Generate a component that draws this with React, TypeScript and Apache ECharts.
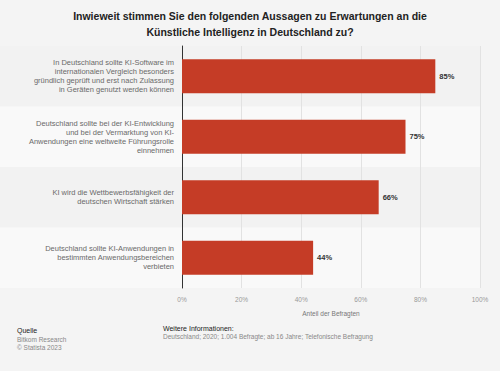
import React, { useEffect, useRef } from "react";
import * as echarts from "echarts";

const categories = [
  "In Deutschland sollte KI-Software im\ninternationalen Vergleich besonders\ngründlich geprüft und erst nach Zulassung\nin Geräten genutzt werden können",
  "Deutschland sollte bei der KI-Entwicklung\nund bei der Vermarktung von KI-\nAnwendungen eine weltweite Führungsrolle\neinnehmen",
  "KI wird die Wettbewerbsfähigkeit der\ndeutschen Wirtschaft stärken",
  "Deutschland sollte KI-Anwendungen in\nbestimmten Anwendungsbereichen\nverbieten",
];
const values = [85, 75, 66, 44];
const xTicks = [0, 20, 40, 60, 80, 100];

const titleText =
  "Inwieweit stimmen Sie den folgenden Aussagen zu Erwartungen an die\nKünstliche Intelligenz in Deutschland zu?";
const axisName = "Anteil der Befragten";
const sourceLabel = "Quelle";
const sourceLines = "Bitkom Research\n© Statista 2023";
const infoLabel = "Weitere Informationen:";
const infoText = "Deutschland; 2020; 1.004 Befragte; ab 16 Jahre; Telefonische Befragung";

const FONT = "Liberation Sans, Arial, sans-serif";

export default function App() {
  const ref = useRef<HTMLDivElement>(null);
  useEffect(() => {
    if (!ref.current) return;
    document.body.style.margin = "0";
    const chart = echarts.init(ref.current, undefined, { renderer: "svg" });
    chart.setOption({
      animation: false,
      backgroundColor: "#f4f4f4",
      textStyle: { fontFamily: FONT },
      title: {
        text: titleText,
        left: "center",
        top: 3,
        textStyle: {
          fontFamily: FONT,
          fontSize: 10.5,
          fontWeight: "bold",
          color: "#222",
          lineHeight: 16,
        },
      },
      grid: [
        { left: 182, right: 20, top: 46, bottom: 83 },
        { left: 0, right: 20, top: 46, bottom: 83 },
      ],
      xAxis: [
        {
          type: "value",
          gridIndex: 0,
          min: 0,
          max: 100,
          interval: 20,
          name: axisName,
          nameLocation: "middle",
          nameGap: 22,
          nameTextStyle: { fontSize: 6.5, color: "#777", fontFamily: FONT },
          axisLine: { show: false },
          axisTick: { show: false },
          axisLabel: {
            fontSize: 6.5,
            color: "#999",
            margin: 8,
            formatter: (v: number) => (xTicks.includes(v) ? v + "%" : ""),
          },
          splitLine: { show: true, lineStyle: { color: "#e2e2e2", width: 1 } },
        },
        {
          type: "value",
          gridIndex: 1,
          min: 0,
          max: 1,
          show: false,
        },
      ],
      yAxis: [
        {
          type: "category",
          gridIndex: 0,
          inverse: true,
          data: categories,
          axisLine: { show: true, lineStyle: { color: "#333", width: 1 } },
          axisTick: { show: false },
          axisLabel: {
            fontSize: 7.5,
            lineHeight: 9,
            color: "#6a6a6a",
            margin: 8,
            align: "right",
            fontFamily: FONT,
          },
          splitArea: { show: false },
        },
        {
          type: "category",
          gridIndex: 1,
          inverse: true,
          data: categories.map((_, i) => String(i)),
          axisLine: { show: false },
          axisTick: { show: false },
          axisLabel: { show: false },
          splitLine: { show: false },
          splitArea: {
            show: true,
            areaStyle: { color: ["#f2f2f2", "#f9f9f9"] },
          },
          z: 0,
        },
      ],
      series: [
        {
          type: "bar",
          xAxisIndex: 0,
          yAxisIndex: 0,
          data: values,
          barWidth: "56%",
          itemStyle: { color: "#c53c26" },
          label: {
            show: true,
            position: "right",
            distance: 4,
            formatter: "{c}%",
            fontSize: 7.5,
            fontWeight: "bold",
            color: "#333",
          },
          z: 3,
        },
      ],
      graphic: [
        {
          type: "text",
          left: 17,
          top: 327,
          style: { text: sourceLabel, fontSize: 7, fill: "#222", fontFamily: FONT },
        },
        {
          type: "text",
          left: 17,
          top: 335.5,
          style: {
            text: sourceLines,
            fontSize: 6.5,
            lineHeight: 8,
            fill: "#888",
            fontFamily: FONT,
          },
        },
        {
          type: "text",
          left: 163,
          top: 324.5,
          style: { text: infoLabel, fontSize: 7, fill: "#222", fontFamily: FONT },
        },
        {
          type: "text",
          left: 163,
          top: 333,
          style: { text: infoText, fontSize: 6.5, fill: "#888", fontFamily: FONT },
        },
      ],
    });
    return () => chart.dispose();
  }, []);
  return <div ref={ref} style={{ width: 500, height: 371 }} />;
}
